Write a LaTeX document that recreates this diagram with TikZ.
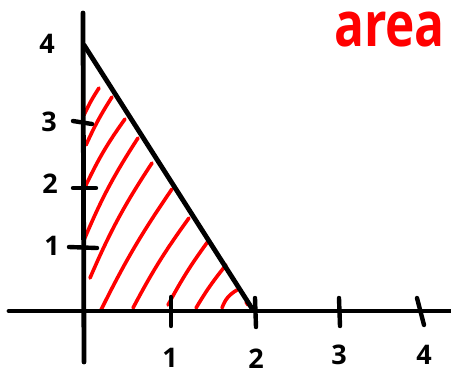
\documentclass[tikz,border=0pt]{standalone}
\usepackage{fontspec}
\setsansfont{Open Sans}
\usetikzlibrary{positioning}
\definecolor{red}{RGB}{255,0,0}

\begin{document}
\begin{tikzpicture}[
    x=1pt, y=-1pt,
    axis/.style={line width=4.8pt, line cap=round},
    tick/.style={line width=4.4pt, line cap=round},
    hatch/.style={draw=red, line width=3.6pt, line cap=round},
    lbl/.style={font=\sffamily\bfseries\fontsize{27}{27}\selectfont, inner sep=0pt},
    title/.style={font=\sffamily\bfseries\fontsize{62}{62}\selectfont, text=red, inner sep=0pt, anchor=base west, xscale=0.8}
]
    \useasboundingbox (0,0) rectangle (451,376);
    \clip (0,0) rectangle (451,376);

    \coordinate (O) at (84,311);
    \coordinate (xl) at (9,311);
    \coordinate (xr) at (451,311);
    \coordinate (yt) at (83,13);
    \coordinate (yb) at (84,362);
    \coordinate (top) at (84,45);
    \coordinate (foot) at (253,310);

    % hatching under the line
    \draw[hatch] (84,115) to[bend left=4] (99,88);
    \draw[hatch] (86,145) to[bend left=4] (112,97);
    \draw[hatch] (86,185) to[bend left=5] (125,119);
    \draw[hatch] (84,240) to[bend left=5] (138,138);
    \draw[hatch] (90,278) to[bend left=5] (152,163);
    \draw[hatch] (101,310) to[bend left=4] (172,189);
    \draw[hatch] (133,308) to[bend left=4] (189,218);
    \draw[hatch] (168,305) to[bend left=4] (209,240);
    \draw[hatch] (196,308) to[bend left=4] (226,265);
    \draw[hatch] (222,308) to[bend left=20] (237,290);
    \draw[hatch] (246,302) -- (248,305);

    % axes and the line
    \draw[axis] (xl) -- (xr);
    \draw[axis] (yt) -- (yb);
    \draw[axis] (top) -- (foot);

    % ticks
    \draw[tick] (171,297) -- (171,326);
    \draw[tick] (255,298) -- (256,327);
    \draw[tick] (339,298) -- (340,326);
    \draw[tick] (417,298) -- (424,325);
    \draw[tick] (69,247) -- (97,248);
    \draw[tick] (73,188) -- (96,188);
    \draw[tick] (73,121) -- (92,124);

    % labels
    \node[lbl] (y4) at (47,44) {4};
    \node[lbl] (y3) at (49,122) {3};
    \node[lbl] (y2) at (50,184) {2};
    \node[lbl] (y1) at (52,246) {1};
    \node[lbl] (x1) at (170,358) {1};
    \node[lbl] (x2) at (256,359) {2};
    \node[lbl] (x3) at (339,355) {3};
    \node[lbl] (x4) at (424,355) {4};

    \node[title] (area) at (334,46) {area};
\end{tikzpicture}
\end{document}
